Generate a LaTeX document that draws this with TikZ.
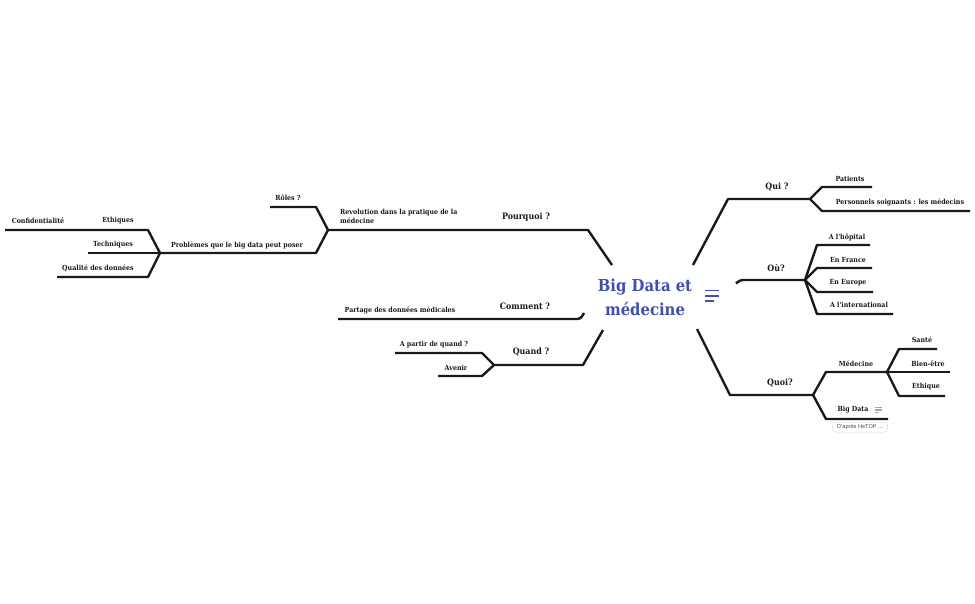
\documentclass[tikz,border=0pt]{standalone}
\usepackage{fontspec}
\newfontfamily\slab[FakeStretch=0.9]{DejaVu Serif}
\setsansfont{Liberation Sans}
\definecolor{rootblue}{HTML}{3F4FB0}
\definecolor{ink}{HTML}{1A1A1A}
\begin{document}
\begin{tikzpicture}[x=1pt,y=-1pt,
  lbl/.style={font=\slab\bfseries\fontsize{7}{9}\selectfont, inner sep=0, text=ink},
  mid/.style={font=\slab\bfseries\fontsize{8.8}{11}\selectfont, inner sep=0, text=ink},
  br/.style={draw=ink, line width=2.4pt, line join=round},
]
\useasboundingbox[fill=white] (0,0) rectangle (975,604);

% root
\node[font=\slab\bfseries\fontsize{16.5}{24}\selectfont, text=rootblue, align=center, inner sep=0] (root) at (645,297) {Big Data et\\médecine};
\coordinate (m1a) at (705,290.5); \coordinate (m1b) at (719,290.5);
\coordinate (m2a) at (705,296);   \coordinate (m2b) at (719,296);
\coordinate (m3a) at (705,301);   \coordinate (m3b) at (714,301);
\draw[rootblue, line width=1.2pt] (m1a) -- (m1b) (m2a) -- (m2b) (m3a) -- (m3b);

% ---------- labels left ----------
\node[mid] (pourquoi) at (526,217) {Pourquoi ?};
\node[lbl, align=left, anchor=west] (revol) at (340,216.5) {Revolution dans la pratique de la\\médecine};
\node[lbl] (roles) at (288,198) {Rôles ?};
\node[lbl] (prob) at (237,245) {Problèmes que le big data peut poser};
\node[lbl] (eth) at (118,221) {Ethiques};
\node[lbl] (conf) at (38,221) {Confidentialité};
\node[lbl] (tech) at (113,245) {Techniques};
\node[lbl] (qual) at (98,268) {Qualité des données};
\node[mid] (comment) at (525,306) {Comment ?};
\node[lbl] (partage) at (400,310) {Partage des données médicales};
\node[mid] (quand) at (531,352) {Quand ?};
\node[lbl] (apartir) at (434,345) {A partir de quand ?};
\node[lbl] (avenir) at (456,368) {Avenir};

% ---------- labels right ----------
\node[mid] (qui) at (777,187) {Qui ?};
\node[lbl] (patients) at (850,179) {Patients};
\node[lbl] (perso) at (900,202) {Personnels soignants : les médecins};
\node[mid] (ou) at (776,268) {Où?};
\node[lbl] (hopital) at (847,237) {A l'hôpital};
\node[lbl] (france) at (848,260) {En France};
\node[lbl] (europe) at (848,283) {En Europe};
\node[lbl] (inter) at (859,305) {A l'international};
\node[mid] (quoi) at (780,383) {Quoi?};
\node[lbl] (medecine) at (856,364) {Médecine};
\node[lbl] (sante) at (922,340) {Santé};
\node[lbl] (bien) at (928,364) {Bien-être};
\node[lbl] (ethique) at (926,387) {Ethique};
\node[lbl] (bigdata) at (853,410) {Big Data};
\node[draw=black!15, line width=0.5pt, rounded corners=3pt, fill=white, font=\sffamily\fontsize{5.6}{6}\selectfont, text=black!70, minimum width=55pt, minimum height=10pt, inner sep=1pt] (hetop) at (860,427) {D'après HeTOP ...};

% note icon
\coordinate (ni1) at (874.5,407.5); \coordinate (ni2) at (881.5,407.5);
\coordinate (ni3) at (874.5,410);   \coordinate (ni4) at (881.5,410);
\coordinate (ni5) at (874.5,412.5); \coordinate (ni6) at (878.5,412.5);
\draw[black!35, line width=1.3pt] (ni1) -- (ni2) (ni3) -- (ni4) (ni5) -- (ni6);

% ---------- Pourquoi ----------
\coordinate (p0) at (612,265); \coordinate (p1) at (588,230); \coordinate (p2) at (328,230);
\draw[br] (p0) -- (p1) -- (p2);
\coordinate (r1) at (316,207); \coordinate (r2) at (270,207);
\draw[br] (p2) -- (r1) -- (r2);
\coordinate (q1) at (316,253); \coordinate (q2) at (160,253);
\draw[br] (p2) -- (q1) -- (q2);
\coordinate (e1) at (148,230); \coordinate (e2) at (5,230);
\draw[br] (q2) -- (e1) -- (e2);
\coordinate (t2) at (88,253);
\draw[br] (q2) -- (t2);
\coordinate (d1) at (148,277); \coordinate (d2) at (57,277);
\draw[br] (q2) -- (d1) -- (d2);

% ---------- Comment ----------
\coordinate (c0) at (584,313); \coordinate (c1) at (580.5,319); \coordinate (c2) at (338,319);
\draw[br, rounded corners=3pt] (c0) -- (c1) -- (c2);

% ---------- Quand ----------
\coordinate (w0) at (603,330); \coordinate (w1) at (583,365); \coordinate (w2) at (494,365);
\draw[br] (w0) -- (w1) -- (w2);
\coordinate (a1) at (482,353); \coordinate (a2) at (395,353);
\draw[br] (w2) -- (a1) -- (a2);
\coordinate (v1) at (482,376); \coordinate (v2) at (438,376);
\draw[br] (w2) -- (v1) -- (v2);

% ---------- Qui ----------
\coordinate (k0) at (693,265); \coordinate (k1) at (728,199); \coordinate (k2) at (810,199);
\draw[br] (k0) -- (k1) -- (k2);
\coordinate (pa1) at (822,187); \coordinate (pa2) at (872,187);
\draw[br] (k2) -- (pa1) -- (pa2);
\coordinate (ps1) at (822,211); \coordinate (ps2) at (970,211);
\draw[br] (k2) -- (ps1) -- (ps2);

% ---------- Ou ----------
\coordinate (o0) at (736,283.5); \coordinate (o1) at (740,280); \coordinate (o2) at (805,280);
\draw[br, rounded corners=3pt] (o0) -- (o1) -- (o2);
\coordinate (h1) at (817,245); \coordinate (h2) at (870,245);
\draw[br] (o2) -- (h1) -- (h2);
\coordinate (f1) at (817,268); \coordinate (f2) at (872,268);
\draw[br] (o2) -- (f1) -- (f2);
\coordinate (eu1) at (817,292); \coordinate (eu2) at (873,292);
\draw[br] (o2) -- (eu1) -- (eu2);
\coordinate (i1) at (817,314); \coordinate (i2) at (893,314);
\draw[br] (o2) -- (i1) -- (i2);

% ---------- Quoi ----------
\coordinate (z0) at (697,329); \coordinate (z1) at (730,395); \coordinate (z2) at (813,395);
\draw[br] (z0) -- (z1) -- (z2);
\coordinate (md1) at (826,372); \coordinate (md2) at (887,372);
\draw[br] (z2) -- (md1) -- (md2);
\coordinate (s1) at (899,349); \coordinate (s2) at (937,349);
\draw[br] (md2) -- (s1) -- (s2);
\coordinate (b2) at (950,372);
\draw[br] (md2) -- (b2);
\coordinate (et1) at (899,396); \coordinate (et2) at (945,396);
\draw[br] (md2) -- (et1) -- (et2);
\coordinate (bd1) at (826,419); \coordinate (bd2) at (888,419);
\draw[br] (z2) -- (bd1) -- (bd2);
\end{tikzpicture}
\end{document}
